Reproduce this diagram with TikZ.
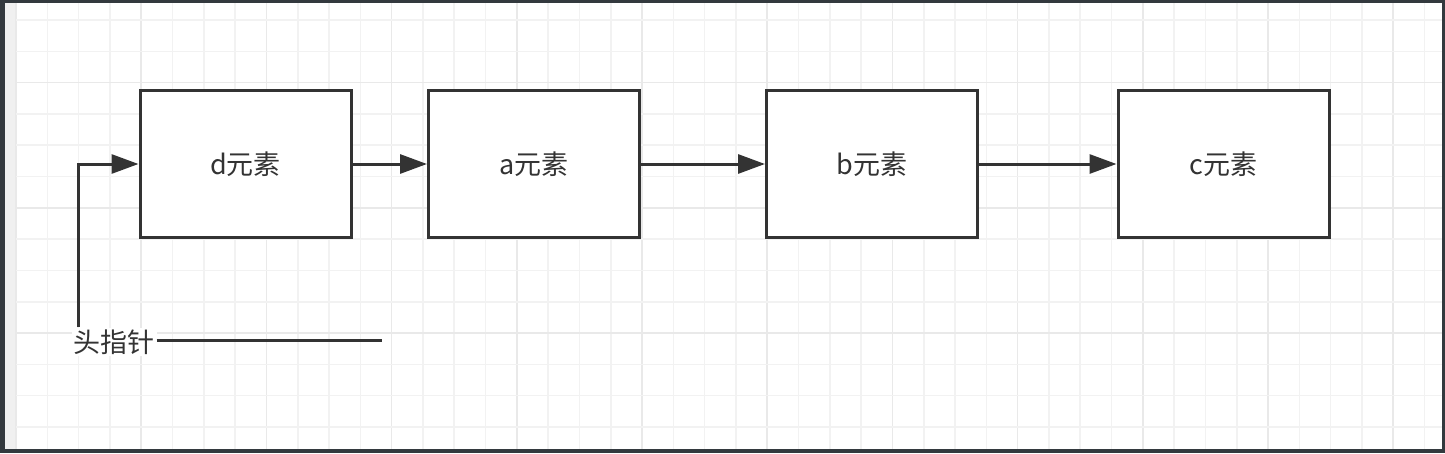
\documentclass[tikz,border=0pt]{standalone}
\usepackage{fontspec}
\newfontfamily\cjk{Noto Sans CJK SC}
\usetikzlibrary{arrows.meta}
\definecolor{frame}{HTML}{33393E}
\definecolor{strip}{HTML}{F0F0F0}
\definecolor{gminor}{HTML}{F2F2F2}
\definecolor{gmajor}{HTML}{E9E9E9}
\definecolor{ink}{HTML}{333333}
\tikzset{
  elem/.style={draw=ink, line width=3pt, fill=white, minimum width=211pt, minimum height=147pt, inner sep=0pt, font=\cjk\fontsize{27}{30}\selectfont, text=ink},
  lbl/.style={fill=white, inner sep=2pt, font=\cjk\fontsize{27}{30}\selectfont, text=ink},
  conn/.style={draw=ink, line width=3pt},
  arr/.style={conn, -{Triangle[length=27pt,width=19pt]}},
  gridminor/.style={draw=gminor, line width=1.6pt},
  gridmajor/.style={draw=gmajor, line width=1.6pt}
}
\begin{document}
\begin{tikzpicture}[x=1pt,y=-1pt]
\useasboundingbox (0,0) rectangle (1445,453);
\fill[frame] (0,0) rectangle (1445,453);
\fill[strip] (5,3) rectangle (16,449);
\fill[white] (16,3) rectangle (1442,449);
\foreach \k in {0,...,45} {
  \pgfmathtruncatemacro{\m}{mod(\k,4)}
  \ifnum\m=0
    \draw[gridmajor] ({16+31.3*\k},3) -- ({16+31.3*\k},449);
  \else
    \draw[gridminor] ({16+31.3*\k},3) -- ({16+31.3*\k},449);
  \fi
}
\foreach \k in {0,...,13} {
  \pgfmathtruncatemacro{\m}{mod(\k+2,4)}
  \ifnum\m=0
    \draw[gridmajor] (16,{20+31.3*\k}) -- (1442,{20+31.3*\k});
  \else
    \draw[gridminor] (16,{20+31.3*\k}) -- (1442,{20+31.3*\k});
  \fi
}
\node[elem] (d) at (245.5,164) {\raisebox{-3pt}{d元素}};
\node[elem] (a) at (534,164) {\raisebox{-3pt}{a元素}};
\node[elem] (b) at (872,164) {\raisebox{-3pt}{b元素}};
\node[elem] (c) at (1223.5,164) {\raisebox{-3pt}{c元素}};
\draw[arr] (d.east) -- (a.west);
\draw[arr] (a.east) -- (b.west);
\draw[arr] (b.east) -- (c.west);
\node[lbl] (head) at (114,342) {头指针};
\coordinate (bend) at (78,164);
\coordinate (tail) at (382,340);
\draw[arr] (bend |- head.north) -- (bend) -- (d.west);
\draw[conn] (head.east |- tail) -- (tail);
\end{tikzpicture}
\end{document}
